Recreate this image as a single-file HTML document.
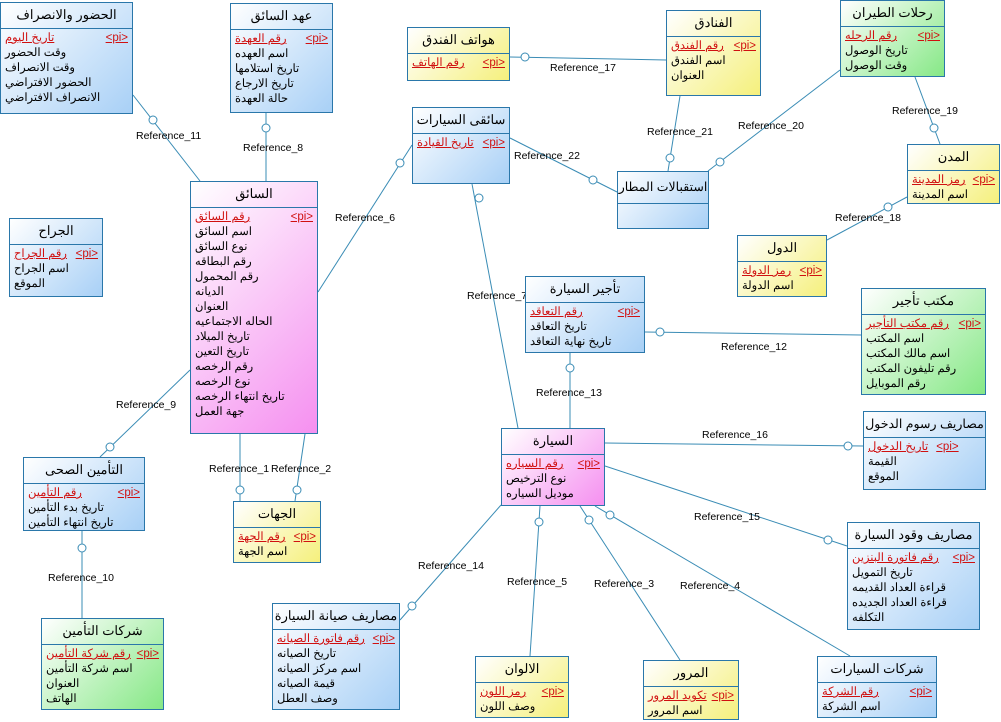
<!DOCTYPE html>
<html><head><meta charset="utf-8">
<style>
body{margin:0;width:1001px;height:722px;background:#fff;position:relative;overflow:hidden;font-family:"Liberation Sans","Noto Sans CJK SC",sans-serif;}
.b{position:absolute;border:1px solid #2a77aa;box-sizing:border-box;}
.bl{background:linear-gradient(135deg,#fff 0%,#a8d0f6 100%);}
.pk{background:linear-gradient(135deg,#fff 0%,#f590f0 100%);}
.yl{background:linear-gradient(135deg,#fff 0%,#f5f07c 100%);}
.gr{background:linear-gradient(135deg,#fff 0%,#86e886 100%);}
.t{height:25px;line-height:24px;text-align:center;font-size:13px;border-bottom:1px solid #2a77aa;color:#000;white-space:nowrap;overflow:hidden;}
.a{padding:2px 4px;font-size:11.5px;}
.r{height:15px;line-height:15px;white-space:nowrap;color:#000;}
.p{display:flex;justify-content:space-between;color:#d01010;text-decoration:underline;}
svg{position:absolute;left:0;top:0;}
.lb{font-size:10.5px;font-family:"Liberation Sans",sans-serif;fill:#000;}
</style></head><body>
<svg width="1001" height="722">
<g stroke="#3a8cb5" stroke-width="1" fill="none">
<line x1="133" y1="95" x2="200" y2="181"/>
<line x1="266" y1="113" x2="266" y2="181"/>
<line x1="318" y1="292" x2="412" y2="145"/>
<line x1="190" y1="370" x2="100" y2="457"/>
<line x1="240" y1="434" x2="240" y2="501"/>
<line x1="305" y1="434" x2="295" y2="501"/>
<line x1="82" y1="531" x2="82" y2="618"/>
<line x1="510" y1="57" x2="666" y2="60"/>
<line x1="680" y1="96" x2="668" y2="171"/>
<line x1="840" y1="70" x2="708" y2="171"/>
<line x1="915" y1="77" x2="940" y2="144"/>
<line x1="510" y1="138" x2="617" y2="192"/>
<line x1="907" y1="197" x2="827" y2="240"/>
<line x1="472" y1="184" x2="518" y2="428"/>
<line x1="645" y1="332" x2="861" y2="335"/>
<line x1="570" y1="353" x2="570" y2="428"/>
<line x1="605" y1="443" x2="863" y2="446"/>
<line x1="605" y1="466" x2="847" y2="546"/>
<line x1="501" y1="505" x2="400" y2="620"/>
<line x1="540" y1="506" x2="530" y2="656"/>
<line x1="580" y1="506" x2="680" y2="660"/>
<line x1="595" y1="506" x2="850" y2="656"/>
</g>
<g fill="#fff" stroke="#3a8cb5">
<circle cx="153" cy="120" r="4"/><circle cx="266" cy="128" r="4"/><circle cx="400" cy="163" r="4"/>
<circle cx="110" cy="447" r="4"/><circle cx="240" cy="490" r="4"/><circle cx="297" cy="490" r="4"/>
<circle cx="82" cy="548" r="4"/><circle cx="525" cy="57" r="4"/><circle cx="670" cy="158" r="4"/>
<circle cx="720" cy="162" r="4"/><circle cx="934" cy="128" r="4"/><circle cx="593" cy="180" r="4"/>
<circle cx="888" cy="207" r="4"/><circle cx="479" cy="198" r="4"/><circle cx="660" cy="332" r="4"/>
<circle cx="570" cy="368" r="4"/><circle cx="848" cy="446" r="4"/><circle cx="828" cy="540" r="4"/>
<circle cx="412" cy="606" r="4"/><circle cx="539" cy="522" r="4"/><circle cx="589" cy="520" r="4"/>
<circle cx="610" cy="515" r="4"/>
</g>
<g class="lb">
<text x="136" y="139">Reference_11</text><text x="243" y="151">Reference_8</text>
<text x="335" y="221">Reference_6</text><text x="116" y="408">Reference_9</text>
<text x="209" y="472">Reference_1</text><text x="271" y="472">Reference_2</text>
<text x="48" y="581">Reference_10</text><text x="550" y="71">Reference_17</text>
<text x="647" y="135">Reference_21</text><text x="738" y="129">Reference_20</text>
<text x="892" y="114">Reference_19</text><text x="514" y="159">Reference_22</text>
<text x="835" y="221">Reference_18</text><text x="467" y="299">Reference_7</text>
<text x="721" y="350">Reference_12</text><text x="536" y="396">Reference_13</text>
<text x="702" y="438">Reference_16</text><text x="694" y="520">Reference_15</text>
<text x="418" y="569">Reference_14</text><text x="507" y="585">Reference_5</text>
<text x="594" y="587">Reference_3</text><text x="680" y="589">Reference_4</text>
</g>
</svg>

<div class="b bl" style="left:0;top:2px;width:133px;height:112px"><div class="t">الحضور والانصراف</div><div class="a"><div class="r p"><span>تاريخ اليوم</span><span>&lt;pi&gt;</span></div><div class="r">وقت الحضور</div><div class="r">وقت الانصراف</div><div class="r">الحضور الافتراضي</div><div class="r">الانصراف الافتراضي</div></div></div>
<div class="b bl" style="left:230px;top:3px;width:103px;height:110px"><div class="t">عهد السائق</div><div class="a"><div class="r p"><span>رقم العهدة</span><span>&lt;pi&gt;</span></div><div class="r">اسم العهده</div><div class="r">تاريخ استلامها</div><div class="r">تاريخ الارجاع</div><div class="r">حالة العهدة</div></div></div>
<div class="b yl" style="left:407px;top:27px;width:103px;height:54px"><div class="t">هواتف الفندق</div><div class="a"><div class="r p"><span>رقم الهاتف</span><span>&lt;pi&gt;</span></div></div></div>
<div class="b yl" style="left:666px;top:10px;width:95px;height:86px"><div class="t">الفنادق</div><div class="a"><div class="r p"><span>رقم الفندق</span><span>&lt;pi&gt;</span></div><div class="r">اسم الفندق</div><div class="r">العنوان</div></div></div>
<div class="b gr" style="left:840px;top:0;width:105px;height:77px"><div class="t">رحلات الطيران</div><div class="a"><div class="r p"><span>رقم الرحله</span><span>&lt;pi&gt;</span></div><div class="r">تاريخ الوصول</div><div class="r">وقت الوصول</div></div></div>
<div class="b bl" style="left:412px;top:107px;width:98px;height:77px"><div class="t">سائقى السيارات</div><div class="a"><div class="r p"><span>تاريخ القيادة</span><span>&lt;pi&gt;</span></div></div></div>
<div class="b bl" style="left:617px;top:171px;width:92px;height:58px"><div class="t" style="height:31px;line-height:31px;font-size:12.5px">استقبالات المطار</div></div>
<div class="b yl" style="left:907px;top:144px;width:93px;height:60px"><div class="t">المدن</div><div class="a"><div class="r p"><span>رمز المدينة</span><span>&lt;pi&gt;</span></div><div class="r">اسم المدينة</div></div></div>
<div class="b yl" style="left:737px;top:235px;width:90px;height:62px"><div class="t">الدول</div><div class="a"><div class="r p"><span>رمز الدولة</span><span>&lt;pi&gt;</span></div><div class="r">اسم الدولة</div></div></div>
<div class="b pk" style="left:190px;top:181px;width:128px;height:253px"><div class="t">السائق</div><div class="a"><div class="r p"><span>رقم السائق</span><span>&lt;pi&gt;</span></div><div class="r">اسم السائق</div><div class="r">نوع السائق</div><div class="r">رقم البطاقه</div><div class="r">رقم المحمول</div><div class="r">الديانه</div><div class="r">العنوان</div><div class="r">الحاله الاجتماعيه</div><div class="r">تاريخ الميلاد</div><div class="r">تاريخ التعين</div><div class="r">رقم الرخصه</div><div class="r">نوع الرخصه</div><div class="r">تاريخ انتهاء الرخصه</div><div class="r">جهة العمل</div></div></div>
<div class="b bl" style="left:9px;top:218px;width:94px;height:79px"><div class="t">الجراح</div><div class="a"><div class="r p"><span>رقم الجراح</span><span>&lt;pi&gt;</span></div><div class="r">اسم الجراح</div><div class="r">الموقع</div></div></div>
<div class="b bl" style="left:525px;top:276px;width:120px;height:77px"><div class="t">تأجير السيارة</div><div class="a"><div class="r p"><span>رقم التعاقد</span><span>&lt;pi&gt;</span></div><div class="r">تاريخ التعاقد</div><div class="r">تاريخ نهاية التعاقد</div></div></div>
<div class="b gr" style="left:861px;top:288px;width:125px;height:107px"><div class="t">مكتب تأجير</div><div class="a"><div class="r p"><span>رقم مكتب التأجير</span><span>&lt;pi&gt;</span></div><div class="r">اسم المكتب</div><div class="r">اسم مالك المكتب</div><div class="r">رقم تليفون المكتب</div><div class="r">رقم الموبايل</div></div></div>
<div class="b bl" style="left:863px;top:411px;width:123px;height:79px"><div class="t" style="font-size:12.5px">مصاريف رسوم الدخول</div><div class="a"><div class="r p" style="justify-content:flex-start;gap:8px"><span>تاريخ الدخول</span><span>&lt;pi&gt;</span></div><div class="r">القيمة</div><div class="r">الموقع</div></div></div>
<div class="b pk" style="left:501px;top:428px;width:104px;height:78px"><div class="t">السيارة</div><div class="a"><div class="r p"><span>رقم السياره</span><span>&lt;pi&gt;</span></div><div class="r">نوع الترخيص</div><div class="r">موديل السياره</div></div></div>
<div class="b bl" style="left:23px;top:457px;width:122px;height:74px"><div class="t">التأمين الصحى</div><div class="a"><div class="r p"><span>رقم التأمين</span><span>&lt;pi&gt;</span></div><div class="r">تاريخ بدء التأمين</div><div class="r">تاريخ انتهاء التأمين</div></div></div>
<div class="b yl" style="left:233px;top:501px;width:88px;height:62px"><div class="t">الجهات</div><div class="a"><div class="r p"><span>رقم الجهة</span><span>&lt;pi&gt;</span></div><div class="r">اسم الجهة</div></div></div>
<div class="b bl" style="left:847px;top:522px;width:133px;height:108px"><div class="t">مصاريف وقود السيارة</div><div class="a"><div class="r p"><span>رقم فاتورة البنزين</span><span>&lt;pi&gt;</span></div><div class="r">تاريخ التمويل</div><div class="r">قراءة العداد القديمه</div><div class="r">قراءة العداد الجديده</div><div class="r">التكلفه</div></div></div>
<div class="b bl" style="left:272px;top:603px;width:128px;height:107px"><div class="t">مصاريف صيانة السيارة</div><div class="a"><div class="r p"><span>رقم فاتورة الصيانه</span><span>&lt;pi&gt;</span></div><div class="r">تاريخ الصيانه</div><div class="r">اسم مركز الصيانه</div><div class="r">قيمة الصيانه</div><div class="r">وصف العطل</div></div></div>
<div class="b gr" style="left:41px;top:618px;width:123px;height:92px"><div class="t">شركات التأمين</div><div class="a"><div class="r p"><span>رقم شركة التأمين</span><span>&lt;pi&gt;</span></div><div class="r">اسم شركة التأمين</div><div class="r">العنوان</div><div class="r">الهاتف</div></div></div>
<div class="b yl" style="left:475px;top:656px;width:94px;height:62px"><div class="t">الالوان</div><div class="a"><div class="r p"><span>رمز اللون</span><span>&lt;pi&gt;</span></div><div class="r">وصف اللون</div></div></div>
<div class="b yl" style="left:643px;top:660px;width:96px;height:60px"><div class="t">المرور</div><div class="a"><div class="r p"><span>تكويد المرور</span><span>&lt;pi&gt;</span></div><div class="r">اسم المرور</div></div></div>
<div class="b bl" style="left:817px;top:656px;width:120px;height:62px"><div class="t">شركات السيارات</div><div class="a"><div class="r p"><span>رقم الشركة</span><span>&lt;pi&gt;</span></div><div class="r">اسم الشركة</div></div></div>
</body></html>
